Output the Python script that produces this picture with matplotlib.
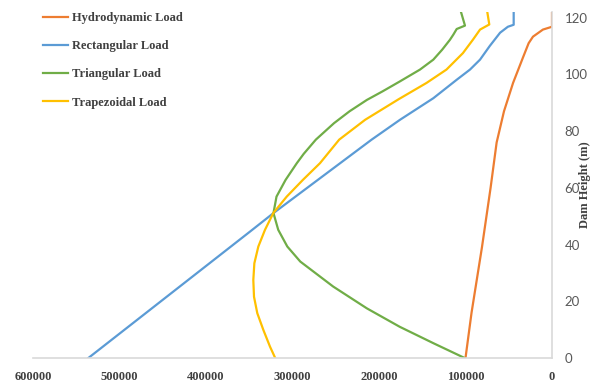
import matplotlib
matplotlib.use('Agg')
import matplotlib.pyplot as plt

# load profiles along the dam height (m) -> pressure
hydro_h = [0, 16, 39, 60, 76, 87, 97, 106, 111, 113.3, 115.8, 116.8, 122]
hydro_p = [100000, 93000, 81000, 71000, 64000, 55500, 45000, 33500, 27000, 22000, 10500, 0, 0]

rect_h = [0, 44.6, 51.1, 77, 84, 91.6, 98.1, 101.7, 105.2, 110, 114.7, 116.8, 117.5, 122]
rect_p = [536000, 349000, 322000, 208500, 175700, 137200, 110200, 94800, 83200,
          72000, 60000, 51000, 44300, 44300]

tri_h = [0, 5.2, 11, 17.5, 25.2, 34, 39.3, 45.2, 51.1, 56.9, 62.8, 68.7, 72, 77,
         82.8, 87, 91, 94, 97.5, 101.7, 105.2, 108.7, 112.2, 114, 116, 117.2, 122]
tri_p = [101000, 137000, 176000, 214000, 253000, 291000, 306000, 316500, 322000,
         318500, 308000, 295000, 287000, 273000, 252000, 234000, 214000, 196000,
         176000, 152600, 137200, 127000, 118000, 114100, 110200, 100600, 105200]

trap_h = [0, 4, 9.9, 15.8, 21.6, 27.5, 33.4, 39.3, 45.2, 51.1, 56.9, 62.8, 68.7,
          77, 84, 91.3, 97, 101.7, 107.5, 112.2, 115.8, 117.6, 122]
trap_p = [320000, 326000, 333700, 340700, 344500, 345300, 344100, 339500, 331800,
          322200, 306700, 288000, 268200, 246000, 216000, 177000, 145000, 122000,
          103000, 91500, 83200, 72500, 74800]

x_ticks = [600000, 500000, 400000, 300000, 200000, 100000, 0]
y_ticks = [0, 20, 40, 60, 80, 100, 120]

fig = plt.figure(figsize=(5.92, 3.85), dpi=100)
ax = fig.add_axes([33 / 592, 1 - 358 / 385, (552 - 33) / 592, (358 - 12) / 385])

lw = 1.6
ax.plot(hydro_p, hydro_h, color='#ED7D31', lw=lw, label='Hydrodynamic Load')
ax.plot(rect_p, rect_h, color='#5B9BD5', lw=lw, label='Rectangular Load')
ax.plot(tri_p, tri_h, color='#70AD47', lw=lw, label='Triangular Load')
ax.plot(trap_p, trap_h, color='#FFC000', lw=lw, label='Trapezoidal Load')

ax.set_xlim(600000, 0)
ax.set_ylim(0, 122)
ax.set_xticks(x_ticks)
ax.set_yticks(y_ticks)
ax.set_xticklabels([str(v) for v in x_ticks], fontfamily='Liberation Serif',
                   fontweight='bold', fontsize=9, color='#404040')
ax.set_yticklabels([str(v) for v in y_ticks], fontfamily='Lato',
                   fontsize=9.5, color='#595959')
ax.yaxis.tick_right()
ax.tick_params(axis='both', length=0)
ax.tick_params(axis='x', pad=9)
ax.tick_params(axis='y', pad=9)

for side in ['top', 'left']:
    ax.spines[side].set_visible(False)
for side in ['bottom', 'right']:
    ax.spines[side].set_color('#D9D9D9')
    ax.spines[side].set_linewidth(1.2)

fig.text(585 / 592, 1 - 185 / 385, 'Dam Height (m)', rotation=90,
         ha='center', va='center', fontfamily='Liberation Serif',
         fontweight='bold', fontsize=9, color='#404040')

fig.legend(loc='upper left', bbox_to_anchor=(43 / 592, 1 - 12 / 385),
           frameon=False, borderpad=0, borderaxespad=0,
           handlelength=2.0, handletextpad=0.3, labelspacing=1.3,
           prop={'family': 'Liberation Serif', 'weight': 'bold', 'size': 9},
           labelcolor='#404040')

fig.savefig('out.png', dpi=100)
